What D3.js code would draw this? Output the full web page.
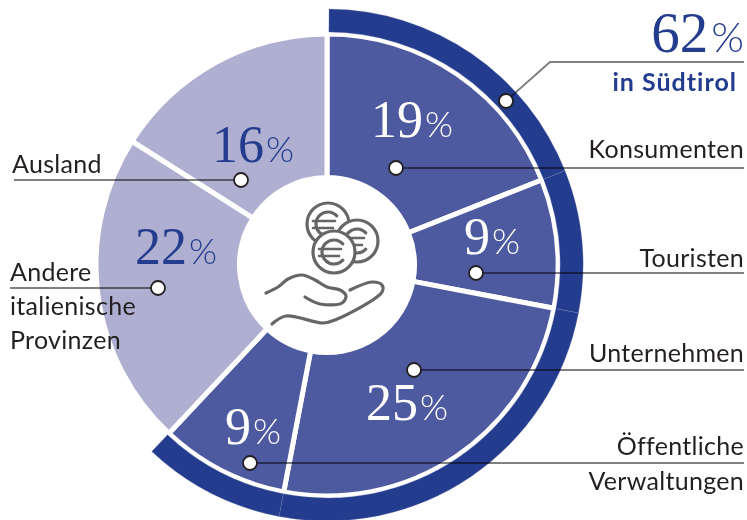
<!DOCTYPE html>
<html lang="de">
<head>
	<meta charset="utf-8">
	<title>Donut Chart</title>
	<script src="https://d3js.org/d3.v7.min.js"></script>
	<style type="text/css">
		html, body{ margin: 0; padding: 0; background: #fff; }
		svg{ display: block; }
		.label{ font-family: "Lato", sans-serif; font-size: 25px; fill: #231f20; letter-spacing: 0.3px; }
		.num{ font-family: "Liberation Serif", serif; }
		.pct{ font-family: "Lato", sans-serif; font-weight: 300; }
		.leader{ fill: none; stroke: #808080; stroke-width: 2; mix-blend-mode: multiply; }
	</style>
</head>
<body>
	<svg id="chart" width="747" height="520"></svg>

	<script type="text/javascript">

	// Data, clockwise from the top
	var segments = ["Konsumenten", "Touristen", "Unternehmen", "Öffentliche Verwaltungen", "Andere italienische Provinzen", "Ausland"]
	var shares = [19, 9, 25, 9, 22, 16]
	var inSuedtirol = [true, true, true, true, false, false]
	var totalLabel = "62"
	var totalCaption = "in Südtirol"

	// Colors
	var darkSlice = "#4e5a9f"
	var lightSlice = "#afafd1"
	var ringColor = "#243c8e"
	var iconColor = "#666666"

	var cx = 327, cy = 265
	var svg = d3.select("#chart")
	var chart = svg.append("g").attr("transform", "translate(" + cx + "," + cy + ")")

	var pie = d3.pie().sort(null).value(d => d)
	var arcs = pie(shares)

	// pie slices
	var sliceArc = d3.arc().innerRadius(87.5).outerRadius(231)
	chart.append("g")
		.selectAll("path")
		.data(arcs)
		.join("path")
		.attr("d", sliceArc)
		.attr("fill", (d, i) => inSuedtirol[i] ? darkSlice : lightSlice)
		.attr("stroke", "white")
		.attr("stroke-width", 5)

	// outer ring, only the Südtirol segments, starts just right of the white divider
	var ringArc = d3.arc().innerRadius(233).outerRadius(256)
		.startAngle((d, i) => i === 0 ? d.startAngle + 0.008 : d.startAngle)
	chart.append("g")
		.selectAll("path")
		.data(arcs.filter((d, i) => inSuedtirol[i]))
		.join("path")
		.attr("d", ringArc)
		.attr("fill", ringColor)
		.attr("stroke", "#6f7fb5")
		.attr("stroke-width", 0.3)

	// center icon, hand with coins
	var icon = svg.append("g").attr("fill", "none").attr("stroke", iconColor)
		.attr("stroke-width", 3.2).attr("stroke-linecap", "round").attr("stroke-linejoin", "round")

	var hand = d3.line().curve(d3.curveCatmullRom.alpha(0.5))
	var handUpper = [[266,293],[278,287],[288,279],[302,275],[315,280],[327,287],[340,290],[346,296],[342,303],[320,304],[305,297]]
	var handLower = [[272,324],[286,316],[323,323],[335,320],[382,292],[382,285],[372,282],[350,290]]
	icon.append("path").attr("d", hand(handUpper))
	icon.append("path").attr("d", hand(handLower))

	var coins = [[328,224],[357,241],[334,252]]
	coins.forEach(c => {
		var coin = icon.append("g").attr("transform", "translate(" + c[0] + "," + c[1] + ")")
		coin.append("circle").attr("r", 21).attr("fill", "white")
		coin.append("path")
			.attr("d", d3.arc().innerRadius(12).outerRadius(12)({startAngle: 0.75, endAngle: 2 * Math.PI - 0.75}).split("Z")[0])
			.attr("transform", "rotate(90)")
		coin.append("path").attr("d", "M-15,-3H7M-15,4H5").attr("stroke-width", 2.6)
	})

	// leader lines
	var lines = d3.line()
	var leaders = [
		[[506,101],[550,62],[744,62]],
		[[396,168],[744,168]],
		[[476,273],[744,273]],
		[[414,370],[744,370]],
		[[250,463],[744,463]],
		[[241,180],[14,180]],
		[[158,288],[10,288]]
	]
	svg.append("g")
		.selectAll("path")
		.data(leaders)
		.join("path")
		.attr("class", "leader")
		.attr("d", d => lines(d))

	svg.append("g")
		.selectAll("circle")
		.data(leaders)
		.join("circle")
		.attr("cx", d => d[0][0])
		.attr("cy", d => d[0][1])
		.attr("r", 7)
		.attr("fill", "white")
		.attr("stroke", "#231f20")
		.attr("stroke-width", 1.8)

	// percent labels, same order as shares
	var pctPos = [[412,137],[492,254],[407,420],[253,444],[176,264],[253,162]]
	var pctColor = ["white", "white", "white", "white", ringColor, ringColor]
	var pctText = svg.append("g")
		.selectAll("text")
		.data(shares)
		.join("text")
		.attr("x", (d, i) => pctPos[i][0])
		.attr("y", (d, i) => pctPos[i][1])
		.attr("text-anchor", "middle")
		.attr("fill", (d, i) => pctColor[i])
	pctText.append("tspan").attr("class", "num").attr("font-size", 52).text(d => d)
	pctText.append("tspan").attr("class", "pct").attr("font-size", 36).attr("dx", 2).text("%")

	// 62% headline
	var total = svg.append("text").attr("x", 744).attr("y", 52).attr("text-anchor", "end").attr("fill", ringColor)
	total.append("tspan").attr("class", "num").attr("font-size", 57).text(totalLabel)
	total.append("tspan").attr("class", "pct").attr("font-size", 42).attr("dx", 3).text("%")
	svg.append("text").attr("class", "label").attr("x", 737).attr("y", 91).attr("text-anchor", "end")
		.style("fill", ringColor).style("font-weight", 700).style("letter-spacing", "1px").text(totalCaption)

	// text labels, split over lines as in the layout
	var labelLines = [
		{t: ["Konsumenten"], x: 744, y: [158], a: "end"},
		{t: ["Touristen"], x: 744, y: [267], a: "end"},
		{t: ["Unternehmen"], x: 744, y: [362], a: "end"},
		{t: ["Öffentliche", "Verwaltungen"], x: 744, y: [455, 490], a: "end"},
		{t: ["Andere", "italienische", "Provinzen"], x: 10, y: [281, 315, 349], a: "start"},
		{t: ["Ausland"], x: 12, y: [173], a: "start"}
	]
	labelLines.forEach(l => {
		l.t.forEach((s, i) => {
			svg.append("text").attr("class", "label")
				.attr("x", l.x).attr("y", l.y[i]).attr("text-anchor", l.a).text(s)
		})
	})

	</script>
</body>
</html>
